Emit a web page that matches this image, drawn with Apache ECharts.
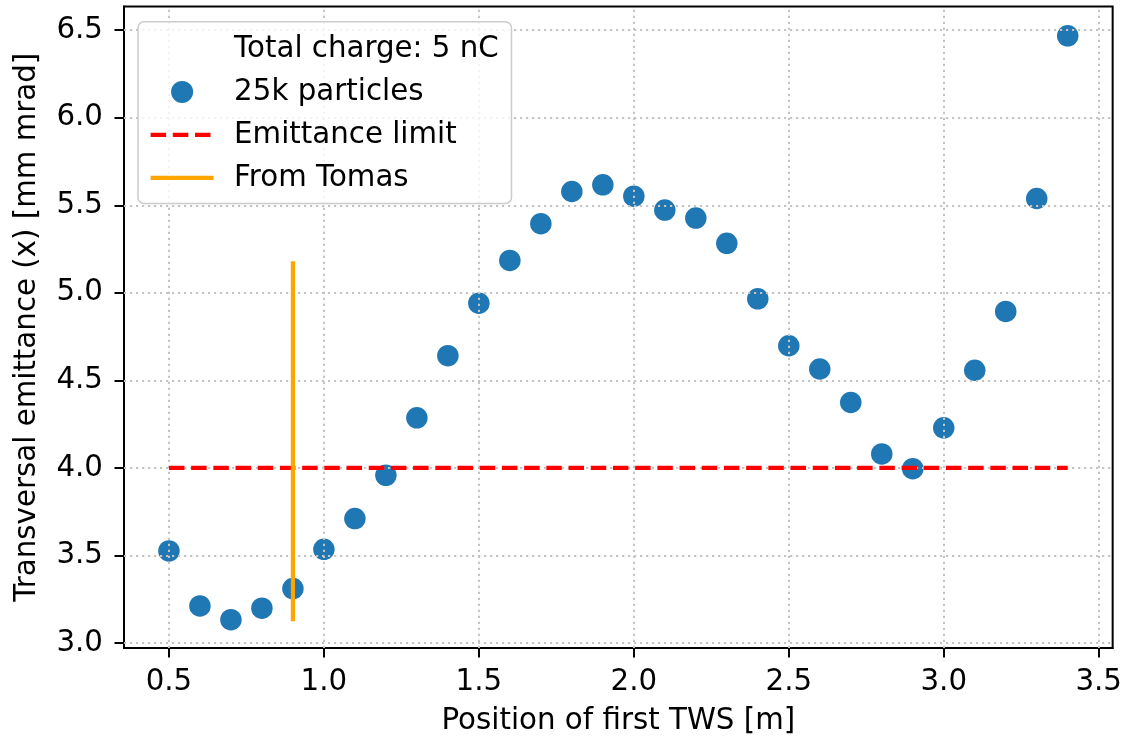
<!DOCTYPE html>
<html>
<head>
<meta charset="utf-8">
<script src="https://cdn.jsdelivr.net/npm/echarts@6/dist/echarts.min.js"></script>
<style>
html,body{margin:0;padding:0;background:#ffffff;}
#chart{width:1125px;height:741px;}
</style>
</head>
<body>
<div id="chart"></div>
<script>
// ---- data ----
const positions = [0.5, 0.6, 0.7, 0.8, 0.9, 1.0, 1.1, 1.2, 1.3, 1.4,
                   1.5, 1.6, 1.7, 1.8, 1.9, 2.0, 2.1, 2.2, 2.3, 2.4,
                   2.5, 2.6, 2.7, 2.8, 2.9, 3.0, 3.1, 3.2, 3.3, 3.4];
const emittance = [3.526, 3.212, 3.133, 3.199, 3.311, 3.535, 3.711, 3.958, 4.286, 4.641,
                   4.941, 5.185, 5.395, 5.579, 5.617, 5.552, 5.473, 5.427, 5.283, 4.966,
                   4.698, 4.565, 4.374, 4.080, 3.996, 4.229, 4.558, 4.894, 5.539, 6.468];
const limitX = [0.5, 3.4];
const limitY = [4.0, 4.0];
const tomasX = [0.9, 0.9];
const tomasY = [3.124, 5.18];
const xTicks = [0.5, 1.0, 1.5, 2.0, 2.5, 3.0, 3.5];
const yTicks = [3.0, 3.5, 4.0, 4.5, 5.0, 5.5, 6.0, 6.5];
const legendNames = ['Total charge: 5 nC', '25k particles', 'Emittance limit', 'From Tomas'];

const FONT = 'DejaVu Sans';
const FS = 29.3;
const chart = echarts.init(document.getElementById('chart'), null, {renderer: 'canvas'});

const scatterData = positions.map((x, i) => [x, emittance[i]]);
const limitData = limitX.map((x, i) => [x, limitY[i]]);
const tomasData = tomasX.map((x, i) => [x, tomasY[i]]);

const hiddenSymbol = {color: 'rgba(0,0,0,0)', opacity: 0, borderWidth: 0};

const option = {
  animation: false,
  backgroundColor: '#ffffff',
  grid: {
    left: 124, right: 8.5, top: 6.6, bottom: 91,
    show: true, borderColor: '#000000', borderWidth: 2, backgroundColor: 'transparent'
  },
  legend: {
    orient: 'vertical',
    left: 138, top: 21.7,
    itemWidth: 63, itemHeight: 22, itemGap: 14,
    padding: [12.7, 12.7, 11, 10.5],
    backgroundColor: 'rgba(255,255,255,0.8)',
    borderColor: '#cccccc', borderWidth: 1.5, borderRadius: 6,
    z: 10,
    selectedMode: false,
    lineStyle: {width: 'inherit', type: 'inherit'},
    textStyle: {fontFamily: FONT, fontSize: FS, color: '#000000', lineHeight: 22, padding: [0, 0, 0, 15.5]},
    data: [
      {name: legendNames[0], icon: 'none'},
      {name: legendNames[1], icon: 'circle'},
      {name: legendNames[2], itemStyle: hiddenSymbol},
      {name: legendNames[3], itemStyle: hiddenSymbol}
    ]
  },
  xAxis: {
    type: 'value', min: 0.355, max: 3.545,
    axisLine: {show: true, onZero: false, lineStyle: {color: '#000000', width: 2}},
    axisTick: {show: true, customValues: xTicks, length: 9.5, lineStyle: {color: '#000000', width: 2}},
    axisLabel: {customValues: xTicks, formatter: v => v.toFixed(1), fontFamily: FONT, fontSize: FS, color: '#000000', margin: 20},
    splitLine: {show: false},
    name: 'Position of first TWS [m]', nameLocation: 'middle', nameGap: 59,
    nameTextStyle: {fontFamily: FONT, fontSize: FS, color: '#000000'}
  },
  yAxis: {
    type: 'value', min: 2.9715, max: 6.635,
    axisLine: {show: true, onZero: false, lineStyle: {color: '#000000', width: 2}},
    axisTick: {show: true, customValues: yTicks, length: 9.5, lineStyle: {color: '#000000', width: 2}},
    axisLabel: {customValues: yTicks, formatter: v => v.toFixed(1), fontFamily: FONT, fontSize: FS, color: '#000000', margin: 21},
    splitLine: {show: false},
    name: 'Transversal emittance (x) [mm mrad]', nameLocation: 'middle', nameGap: 82,
    nameTextStyle: {fontFamily: FONT, fontSize: FS, color: '#000000'}
  },
  series: [
    {
      name: legendNames[0], type: 'scatter', data: [], symbolSize: 0
    },
    {
      name: legendNames[1], type: 'scatter', z: 1,
      data: scatterData, symbol: 'circle', symbolSize: 21.5,
      itemStyle: {color: '#1f77b4', opacity: 1},
      emphasis: {disabled: true}
    },
    {
      name: 'grid', type: 'line', data: [], z: 2, silent: true,
      markLine: {
        silent: true, z: 2, animation: false,
        symbol: ['none', 'none'],
        label: {show: false},
        emphasis: {disabled: true},
        lineStyle: {color: '#c4c4c4', width: 2, type: [2.2, 3.8]},
        data: [
          ...xTicks.map(v => ({xAxis: v})),
          ...yTicks.map(v => ({yAxis: v}))
        ]
      }
    },
    {
      name: legendNames[2], type: 'line', z: 3,
      data: limitData, symbol: 'none', silent: true,
      lineStyle: {color: '#ff0000', width: 4.2, type: [15.5, 6.7]},
      itemStyle: {color: '#ff0000'},
      emphasis: {disabled: true}
    },
    {
      name: legendNames[3], type: 'line', z: 4,
      data: tomasData, symbol: 'none', silent: true,
      lineStyle: {color: '#ffa500', width: 4.2, type: 'solid'},
      itemStyle: {color: '#ffa500'},
      emphasis: {disabled: true}
    }
  ]
};
chart.setOption(option);
</script>
</body>
</html>
